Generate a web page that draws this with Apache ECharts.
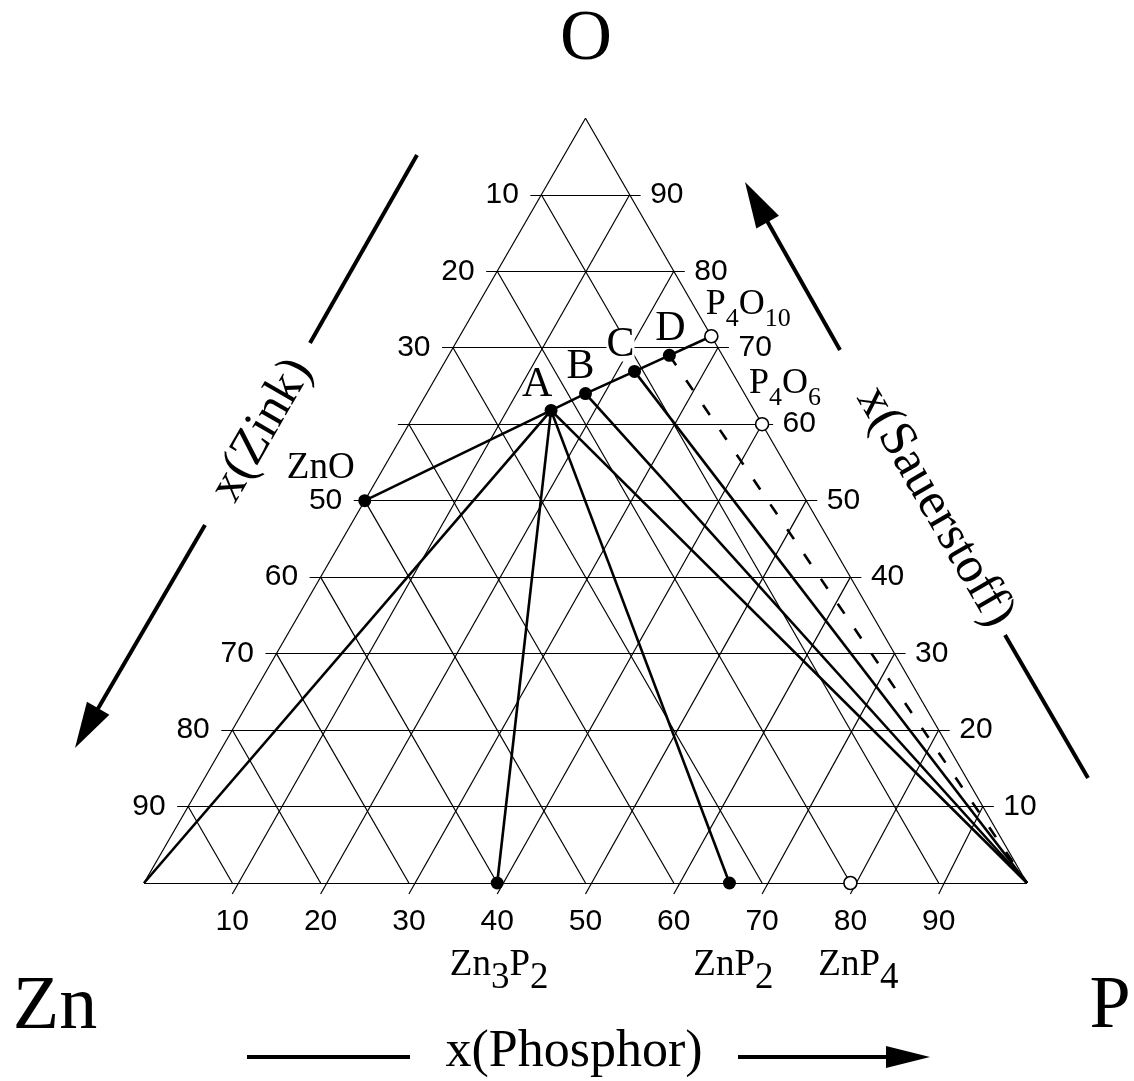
<!DOCTYPE html>
<html>
<head>
<meta charset="utf-8">
<title>Zn-P-O</title>
<script src="https://cdn.jsdelivr.net/npm/echarts@6/dist/echarts.min.js"></script>
<style>
html, body { margin: 0; padding: 0; background: #fff; }
#chart { width: 1134px; height: 1081px; }
</style>
</head>
<body>
<div id="chart"></div>
<script>
// compositions as mole fractions, x(Zn) = 1 - x(P) - x(O)
var solidNames = ['ZnO', 'Zn3P2', 'ZnP2', 'A', 'B', 'C', 'D'];
var solidP = [0.0, 0.40, 0.663, 0.152, 0.180, 0.221, 0.250];
var solidO = [0.50, 0.0, 0.0, 0.618, 0.640, 0.669, 0.690];

var openNames = ['ZnP4', 'P4O10', 'P4O6'];
var openP = [0.80, 0.285, 0.40];
var openO = [0.0, 0.715, 0.60];

var cornerNames = ['Zn', 'P', 'O'];
var cornerP = [0, 1, 0];
var cornerO = [0, 0, 1];

// tie lines (by name)
var tieFrom = ['A', 'A', 'A', 'A', 'A', 'B', 'C'];
var tieTo = ['ZnO', 'Zn', 'Zn3P2', 'ZnP2', 'P', 'P', 'P'];
var chainNames = ['A', 'B', 'C', 'D', 'P4O10'];
var dashedFrom = ['D'];
var dashedTo = ['P'];

// tick labels in percent
var gridSteps = [10, 20, 30, 40, 50, 60, 70, 80, 90];
var zincTicks = [10, 20, 30, 50, 60, 70, 80, 90];     // left side, x(Zink)
var oxygenTicks = [10, 20, 30, 40, 50, 60, 70, 80, 90]; // right side, x(Sauerstoff)
var phosTicks = [10, 20, 30, 40, 50, 60, 70, 80, 90];   // bottom, x(Phosphor)

var H = Math.sqrt(3) / 2;
var SIDE = 883;
var EXT = 11 / SIDE;
function tern(p, o) { return [p + o / 2, o * H]; }

var pos = {};
solidNames.forEach(function (n, i) { pos[n] = tern(solidP[i], solidO[i]); });
openNames.forEach(function (n, i) { pos[n] = tern(openP[i], openO[i]); });
cornerNames.forEach(function (n, i) { pos[n] = tern(cornerP[i], cornerO[i]); });

// grid lines
var gridSegs = [
    [pos.Zn, pos.P], [pos.P, pos.O], [pos.O, pos.Zn]
];
gridSteps.forEach(function (s) {
    var f = s / 100;
    var l = tern(0, f), r = tern(1 - f, f);
    gridSegs.push([[l[0] - EXT, l[1]], [r[0] + EXT, r[1]]]);  // const O
    gridSegs.push([[f, -EXT], tern(f, 1 - f)]);               // const P
    gridSegs.push([tern(1 - f, 0), tern(0, 1 - f)]);           // const Zn
});

var ties = tieFrom.map(function (a, i) { return { coords: [pos[a], pos[tieTo[i]]] }; });
for (var i = 0; i < chainNames.length - 1; i++) {
    ties.push({ coords: [pos[chainNames[i]], pos[chainNames[i + 1]]] });
}
var dashed = dashedFrom.map(function (a, i) { return { coords: [pos[a], pos[dashedTo[i]]] }; });

var serif = '"Liberation Serif", "Times New Roman", serif';
var sans = '"Liberation Sans", Arial, sans-serif';

var labelCfg = {
    'ZnO':   { text: 'ZnO', offset: [-44, -32] },
    'Zn3P2': { text: '{b|Zn}{t|3}{b|P}{t|2}', offset: [2, 82] },
    'ZnP2':  { text: '{b|ZnP}{t|2}', offset: [4, 82] },
    'ZnP4':  { text: '{b|ZnP}{t|4}', offset: [8, 82] },
    'P4O10': { text: '{c|P}{u|4}{c|O}{u|10}', offset: [37, -32] },
    'P4O6':  { text: '{c|P}{u|4}{c|O}{u|6}', offset: [23, -41] },
    'A': { text: 'A', offset: [-14, -25], big: true },
    'B': { text: 'B', offset: [-5, -27], big: true },
    'C': { text: 'C', offset: [-14, -26], big: true, bg: true },
    'D': { text: 'D', offset: [1, -26], big: true }
};
var rich = {
    b: { fontSize: 37, fontFamily: serif, color: '#000' },
    t: { fontSize: 37, fontFamily: serif, color: '#000', padding: [26, 0, 0, 0] },
    c: { fontSize: 36, fontFamily: serif, color: '#000' },
    u: { fontSize: 26, fontFamily: serif, color: '#000', padding: [30, 0, 0, 0] }
};
function pointItem(n) {
    var c = labelCfg[n];
    return {
        name: n,
        value: pos[n],
        label: {
            show: true,
            position: 'inside',
            formatter: c.text,
            offset: c.offset,
            fontSize: c.big ? 42 : 37,
            lineHeight: c.big ? 32 : undefined,
            fontFamily: serif,
            color: '#000',
            backgroundColor: c.bg ? '#fff' : 'transparent',
            rich: rich
        }
    };
}

function tickLabel(extra) {
    var l = { show: true, formatter: '{b}', fontSize: 30, fontFamily: sans, color: '#000', opacity: 1 };
    for (var k in extra) l[k] = extra[k];
    return l;
}
var tickData = [];
zincTicks.forEach(function (v) {
    tickData.push({ name: String(v), value: tern(0, 1 - v / 100),
        label: tickLabel({ position: 'left', distance: 22 }) });
});
oxygenTicks.forEach(function (v) {
    var f = v / 100;
    tickData.push({ name: String(v), value: tern(1 - f, f),
        label: tickLabel({ position: 'right', distance: 20 }) });
});
phosTicks.forEach(function (v) {
    tickData.push({ name: String(v), value: tern(v / 100, 0),
        label: tickLabel({ position: 'inside', offset: [0, 39] }) });
});

function arrow(x1, y1, x2, y2, headLen, headHalf) {
    var dx = x2 - x1, dy = y2 - y1, L = Math.sqrt(dx * dx + dy * dy);
    var ux = dx / L, uy = dy / L;
    var bx = x2 - ux * headLen, by = y2 - uy * headLen;
    return [
        { type: 'line', shape: { x1: x1, y1: y1, x2: bx + ux * 4, y2: by + uy * 4 },
          style: { stroke: '#000', lineWidth: 4 } },
        { type: 'polygon', shape: { points: [[x2, y2],
            [bx - uy * headHalf, by + ux * headHalf], [bx + uy * headHalf, by - ux * headHalf]] },
          style: { fill: '#000' } }
    ];
}
function bar(x1, y1, x2, y2) {
    return { type: 'line', shape: { x1: x1, y1: y1, x2: x2, y2: y2 }, style: { stroke: '#000', lineWidth: 4 } };
}
function txt(x, y, s, size, rot) {
    return { type: 'text', x: x, y: y, rotation: rot || 0,
        style: { text: s, font: size + 'px ' + serif, fill: '#000',
            align: 'center', verticalAlign: 'middle', textAlign: 'center', textVerticalAlign: 'middle' } };
}

var graphics = [
    txt(586, 40, 'O', 72),
    txt(55, 1008, 'Zn', 76),
    txt(1110, 1008, 'P', 74),
    txt(262, 430, 'x(Zink)', 51, Math.PI / 3),
    txt(935, 507, 'x(Sauerstoff)', 51, -Math.PI / 3),
    txt(574, 1052, 'x(Phosphor)', 52),
    bar(417, 155, 310, 343),
    bar(1005, 635, 1088, 778),
    bar(247, 1057, 410, 1057)
].concat(arrow(205, 525, 75, 748, 46, 13))
 .concat(arrow(840, 350, 745, 182, 46, 13))
 .concat(arrow(738, 1057, 930, 1057, 44, 11));

var chart = echarts.init(document.getElementById('chart'));
chart.setOption({
    animation: false,
    backgroundColor: '#fff',
    grid: { left: 144, top: 883 - SIDE * H, width: SIDE, height: SIDE * H },
    xAxis: { type: 'value', min: 0, max: 1, show: false },
    yAxis: { type: 'value', min: 0, max: H, show: false },
    graphic: graphics,
    series: [
        {
            type: 'lines', coordinateSystem: 'cartesian2d', clip: false, silent: true, z: 1,
            lineStyle: { color: '#000', width: 1.2, opacity: 1 },
            data: gridSegs.map(function (s) { return { coords: s }; })
        },
        {
            type: 'lines', coordinateSystem: 'cartesian2d', clip: false, silent: true, z: 2,
            lineStyle: { color: '#000', width: 2.6, opacity: 1 },
            data: ties
        },
        {
            type: 'lines', coordinateSystem: 'cartesian2d', clip: false, silent: true, z: 2,
            lineStyle: { color: '#000', width: 2.6, opacity: 1, type: [12, 18] },
            data: dashed
        },
        {
            type: 'scatter', clip: false, silent: true, z: 5,
            symbolSize: 13,
            itemStyle: { color: '#000', opacity: 1 },
            data: solidNames.map(pointItem)
        },
        {
            type: 'scatter', clip: false, silent: true, z: 5,
            symbolSize: 13,
            itemStyle: { color: '#fff', borderColor: '#000', borderWidth: 1.6, opacity: 1 },
            data: openNames.map(pointItem)
        },
        {
            type: 'scatter', clip: false, silent: true, z: 4,
            symbolSize: 1,
            itemStyle: { color: 'rgba(0,0,0,0)' },
            label: { show: true, formatter: '{b}', fontSize: 30, fontFamily: sans, color: '#000' },
            data: tickData
        }
    ]
});
</script>
</body>
</html>
